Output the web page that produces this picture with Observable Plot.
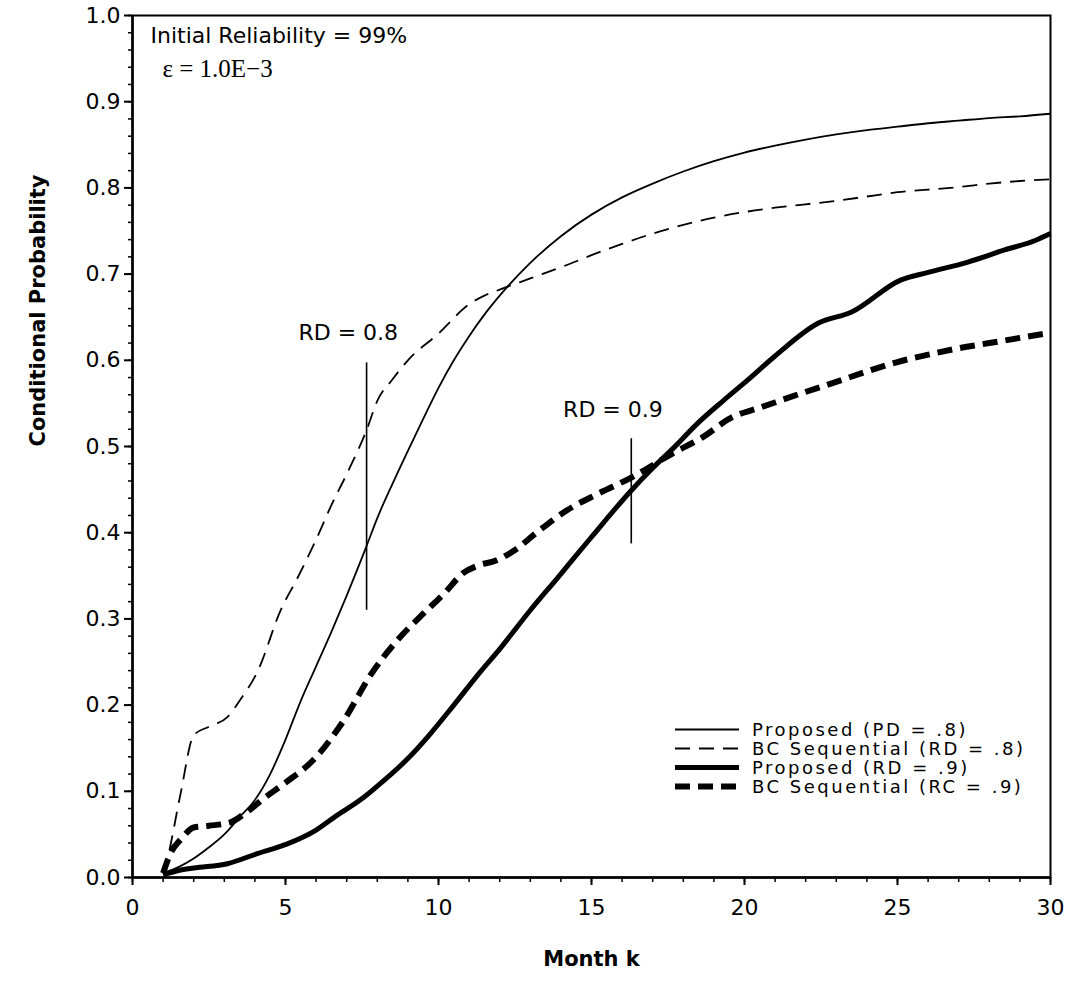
<!DOCTYPE html>
<html>
<head>
<meta charset="utf-8">
<script src="https://cdn.jsdelivr.net/npm/d3@7"></script>
<script src="https://cdn.jsdelivr.net/npm/@observablehq/plot@0.6"></script>
<style>
  body { margin: 0; background: #fff; }
  #wrap { position: relative; width: 1070px; height: 982px; }
  #legend { position: absolute; left: 675px; top: 720px; font-family: "DejaVu Sans", sans-serif; font-size: 18px; line-height: 19px; letter-spacing: 2.5px; color: #000; }
  #legend .row { display: flex; align-items: center; height: 19px; }
  #legend svg { width: 64px; height: 19px; margin-right: 13px; flex: none; }
</style>
</head>
<body>
<div id="wrap"><div id="legend"></div></div>
<script>
// ---- Data ----
const propRD8_k = [1,1.5,2,2.5,3,3.5,4,4.5,5,5.5,6,6.5,7,7.6,8,8.5,9,9.5,10,10.5,11,11.5,12,13,14,15,16,17,18,19,20,21,22,23,24,25,26,27,28,29,30];
const propRD8_p = [0.005,0.012,0.022,0.035,0.05,0.07,0.09,0.12,0.16,0.205,0.245,0.285,0.327,0.38,0.417,0.457,0.495,0.532,0.568,0.6,0.628,0.653,0.675,0.713,0.744,0.769,0.789,0.805,0.819,0.831,0.841,0.849,0.856,0.862,0.867,0.871,0.875,0.878,0.881,0.883,0.886];

const bcRD8_k = [1,1.14,1.57,2,2.5,3.1,3.5,4.1,4.84,5.4,6,6.5,7,7.65,8,8.5,9,10,11,11.5,12,13,14.3,15,16,17,18,18.8,20,21,22,23,24,25,26,27,28,29,30];
const bcRD8_p = [0.005,0.022,0.097,0.165,0.175,0.186,0.205,0.24,0.31,0.348,0.392,0.432,0.468,0.519,0.553,0.578,0.6,0.631,0.665,0.675,0.682,0.695,0.712,0.722,0.735,0.747,0.757,0.764,0.772,0.777,0.781,0.785,0.79,0.795,0.798,0.801,0.805,0.808,0.81];

const propRD9_k = [1,1.5,2,3.1,4.1,5.06,6,6.6,7.56,8.2,9,9.74,10.5,11.4,12,13,13.9,15,16.3,17,17.7,18.5,19.3,20.1,21,22.4,23.5,25.1,26,27.3,28.5,29.5,30];
const propRD9_p = [0.003,0.008,0.011,0.016,0.028,0.039,0.055,0.07,0.093,0.112,0.138,0.167,0.2,0.24,0.265,0.31,0.348,0.395,0.449,0.475,0.499,0.528,0.553,0.577,0.605,0.643,0.656,0.693,0.702,0.714,0.728,0.739,0.747];

const bcRD9_k = [1,1.24,1.6,2,2.5,3.2,3.7,4.3,5,5.9,6.9,7.8,8.65,9.5,10.2,10.8,11.3,11.9,12.5,13.2,14.2,15.2,16.3,17.7,18.6,19.6,20.5,21.8,23,24,25,26.2,27,28,29,30];
const bcRD9_p = [0.005,0.028,0.045,0.058,0.06,0.064,0.075,0.092,0.11,0.136,0.182,0.236,0.275,0.306,0.33,0.353,0.362,0.368,0.38,0.4,0.426,0.445,0.464,0.493,0.51,0.534,0.545,0.561,0.575,0.587,0.598,0.608,0.614,0.62,0.626,0.632];

const seriesNames = ["Proposed (PD = .8)", "BC Sequential (RD = .8)", "Proposed (RD = .9)", "BC Sequential (RC = .9)"];
const seriesWidths = [1.8, 1.8, 5, 6];
const seriesDash = [null, "15,9", null, "15,8"];

const markerK = [7.65, 16.3];
const markerLo = [0.31, 0.387];
const markerHi = [0.597, 0.509];
const markerText = ["RD = 0.8", "RD = 0.9"];
const markerTextK = [7.05, 15.7];
const markerTextP = [0.632, 0.542];

const xMajor = [0,5,10,15,20,25,30];
const xMinor = d3.range(0, 31, 1);
const yMajor = [0,0.1,0.2,0.3,0.4,0.5,0.6,0.7,0.8,0.9,1.0];
const yMinor = d3.range(0, 51).map(i => i / 50);

const noteLines = ["Initial Reliability = 99%", "ε = 1.0E−3"];

// ---- Build tables ----
const toRows = (ks, ps) => ks.map((k, i) => ({k, p: ps[i]}));
const series = [
  toRows(propRD8_k, propRD8_p),
  toRows(bcRD8_k, bcRD8_p),
  toRows(propRD9_k, propRD9_p),
  toRows(bcRD9_k, bcRD9_p)
];
const markers = markerK.map((k, i) => ({k, lo: markerLo[i], hi: markerHi[i]}));
const markerLabels = markerText.map((t, i) => ({t, k: markerTextK[i], p: markerTextP[i]}));

const lineMarks = series.map((rows, i) => Plot.line(rows, {
  x: "k", y: "p", stroke: "black", strokeWidth: seriesWidths[i],
  strokeDasharray: seriesDash[i] ?? undefined, curve: "monotone-x",
  strokeLinecap: "butt", strokeLinejoin: "round"
}));

const chart = Plot.plot({
  width: 1070,
  height: 982,
  marginLeft: 132,
  marginRight: 20,
  marginTop: 15,
  marginBottom: 105,
  x: {domain: [0, 30]},
  y: {domain: [0, 1]},
  style: {fontFamily: "DejaVu Sans, sans-serif", fontSize: "22px", color: "black", background: "white"},
  marks: [
    Plot.frame({stroke: "black", strokeWidth: 2}),
    Plot.axisY(yMinor, {tickSize: 4, text: null, strokeWidth: 1.5, label: null}),
    Plot.axisY(yMajor, {tickSize: 8, tickPadding: 4, strokeWidth: 2, tickFormat: d3.format(".1f"), label: null, fontSize: 22, letterSpacing: 1}),
    Plot.axisX(xMinor, {tickSize: 5, text: null, strokeWidth: 1.5, label: null}),
    Plot.axisX(xMajor, {tickSize: 8, tickPadding: 14, strokeWidth: 2, label: null, fontSize: 22, letterSpacing: 1}),
    Plot.ruleY([0], {stroke: "black", strokeWidth: 2.5}),
    Plot.ruleX([0], {stroke: "black", strokeWidth: 2.5}),
    ...lineMarks,
    Plot.ruleX(markers, {x: "k", y1: "lo", y2: "hi", stroke: "black", strokeWidth: 1.6}),
    Plot.text(markerLabels, {x: "k", y: "p", text: "t", fontSize: 22, fill: "black"}),
    Plot.text([noteLines[0]], {frameAnchor: "top-left", dx: 18, dy: 12, fontSize: 22, letterSpacing: 1, textAnchor: "start"}),
    Plot.text([noteLines[1]], {frameAnchor: "top-left", dx: 30, dy: 44, fontSize: 25, fontFamily: "Liberation Serif, serif", letterSpacing: 2, textAnchor: "start"}),
    Plot.text(["Conditional Probability"], {frameAnchor: "left", dx: -94, rotate: -90, fontSize: 21, fontWeight: "bold", letterSpacing: 1.5}),
    Plot.text(["Month k"], {frameAnchor: "bottom", dy: 88, fontSize: 21, fontWeight: "bold", letterSpacing: 1.5})
  ]
});
document.getElementById("wrap").prepend(chart);

// ---- Legend (inside plot area, HTML overlay) ----
const legend = document.getElementById("legend");
seriesNames.forEach((name, i) => {
  const row = document.createElement("div");
  row.className = "row";
  const dash = seriesDash[i] ? `stroke-dasharray="${seriesDash[i]}"` : "";
  row.innerHTML = `<svg viewBox="0 0 64 19"><line x1="0" y1="9.5" x2="64" y2="9.5" stroke="black" stroke-width="${seriesWidths[i]}" ${dash}/></svg><span>${name}</span>`;
  legend.appendChild(row);
});
</script>
</body>
</html>
